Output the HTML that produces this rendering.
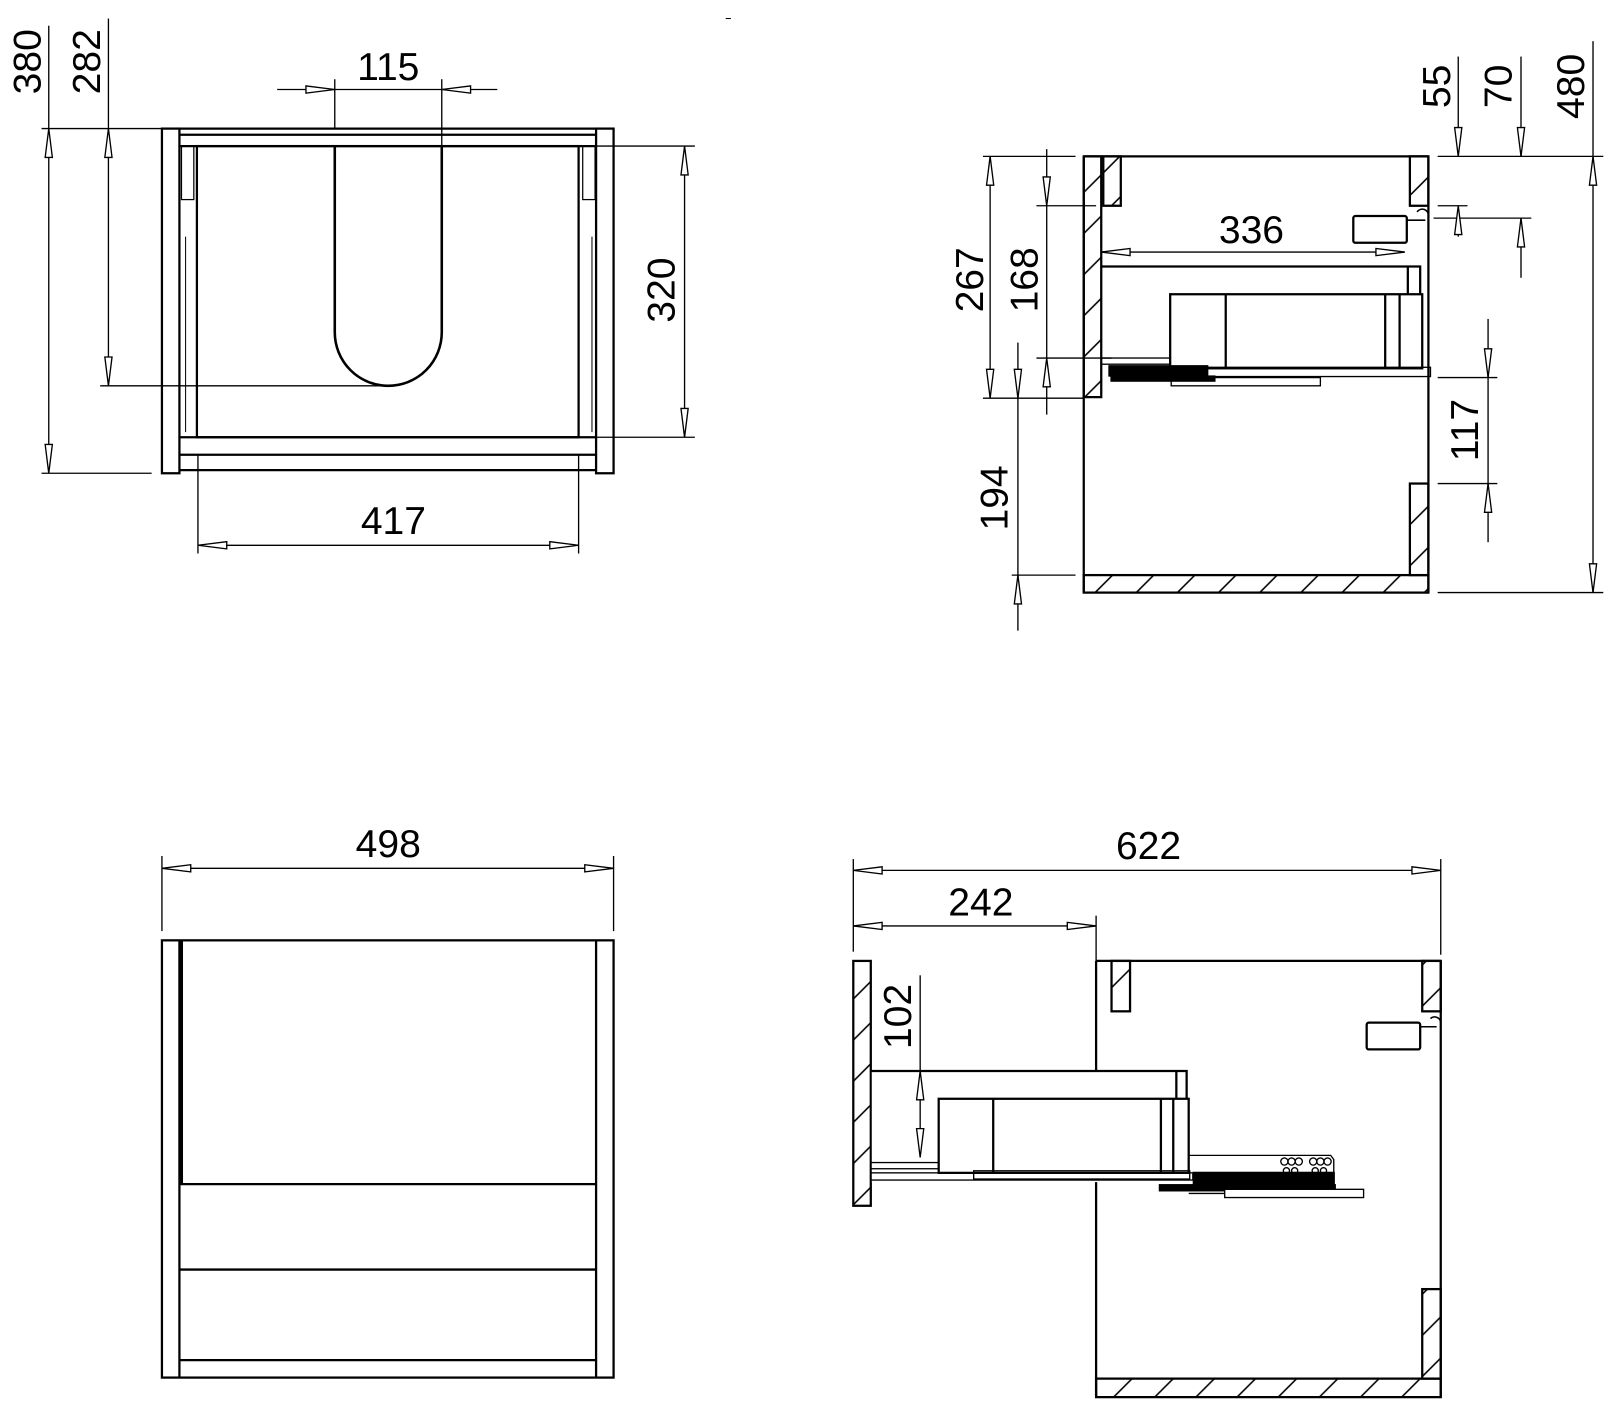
<!DOCTYPE html>
<html><head><meta charset="utf-8"><style>
html,body{margin:0;padding:0;background:#fff;}
svg{display:block}
text{font-family:"Liberation Sans",sans-serif;font-size:38px;fill:#000}
</style></head><body>
<svg width="1614" height="1428" viewBox="0 0 1568 1388" xmlns="http://www.w3.org/2000/svg">
<defs>
<marker id="a" viewBox="-30 -5 31 10" refX="0" refY="0" markerWidth="31" markerHeight="10" markerUnits="userSpaceOnUse" orient="auto-start-reverse">
<path d="M0,0 L-28,-3.5 L-28,3.5 Z" fill="#fff" stroke="#000" stroke-width="1.3"/>
</marker>
<pattern id="h" patternUnits="userSpaceOnUse" width="40" height="40">
<path d="M-10,50 L50,-10 M-10,10 L10,-10 M30,50 L50,30" stroke="#000" stroke-width="1.5"/>
</pattern>
</defs>
<g fill="none" stroke="#000" stroke-width="2.2">
<!-- ===== TOP LEFT ===== -->
<rect x="157" y="125" width="17" height="335"/>
<rect x="579" y="125" width="17" height="335"/>
<line x1="174" y1="125" x2="579" y2="125"/>
<line x1="174" y1="131" x2="579" y2="131"/>
<line x1="174" y1="142" x2="579" y2="142"/>
<rect x="191" y="142" width="371" height="283"/>
<line x1="174" y1="425" x2="579" y2="425"/>
<line x1="174" y1="442" x2="579" y2="442"/>
<line x1="174" y1="457" x2="579" y2="457"/>
<rect x="176" y="142" width="12" height="52" stroke-width="1.2"/>
<rect x="566" y="142" width="12" height="52" stroke-width="1.2"/>
<line x1="180" y1="230" x2="180" y2="420" stroke-width="1"/>
<line x1="575" y1="230" x2="575" y2="420" stroke-width="1"/>
<path d="M325,142 L325,323 A52,52 0 0 0 429,323 L429,142" stroke-width="2.5"/>
<!-- dims -->
<line x1="325" y1="77" x2="325" y2="125" stroke-width="1.3"/>
<line x1="429" y1="77" x2="429" y2="142" stroke-width="1.3"/>
<line x1="269" y1="87" x2="325" y2="87" stroke-width="1.3" marker-end="url(#a)"/>
<line x1="483" y1="87" x2="429" y2="87" stroke-width="1.3" marker-end="url(#a)"/>
<line x1="325" y1="87" x2="429" y2="87" stroke-width="1.3"/>
<line x1="40" y1="125" x2="157" y2="125" stroke-width="1.3"/>
<line x1="40" y1="460" x2="147" y2="460" stroke-width="1.3"/>
<line x1="47" y1="25" x2="47" y2="125" stroke-width="1.3"/>
<line x1="47" y1="125" x2="47" y2="460" stroke-width="1.3" marker-start="url(#a)" marker-end="url(#a)"/>
<line x1="97" y1="375" x2="377" y2="375" stroke-width="1.3"/>
<line x1="105" y1="18" x2="105" y2="125" stroke-width="1.3"/>
<line x1="105" y1="125" x2="105" y2="375" stroke-width="1.3" marker-start="url(#a)" marker-end="url(#a)"/>
<line x1="562" y1="142" x2="675" y2="142" stroke-width="1.3"/>
<line x1="562" y1="425" x2="675" y2="425" stroke-width="1.3"/>
<line x1="665" y1="142" x2="665" y2="425" stroke-width="1.3" marker-start="url(#a)" marker-end="url(#a)"/>
<line x1="192" y1="442" x2="192" y2="538" stroke-width="1.3"/>
<line x1="562" y1="442" x2="562" y2="538" stroke-width="1.3"/>
<line x1="192" y1="530" x2="562" y2="530" stroke-width="1.3" marker-start="url(#a)" marker-end="url(#a)"/>

<!-- ===== TOP RIGHT ===== -->
<line x1="1053" y1="152" x2="1388" y2="152"/>
<line x1="1388" y1="152" x2="1388" y2="576"/>
<line x1="1053" y1="152" x2="1053" y2="576"/>
<rect x="1053" y="152" width="17" height="234" fill="url(#h)"/>
<rect x="1072" y="152" width="17" height="48" fill="url(#h)"/>
<rect x="1370" y="152" width="18" height="48" fill="url(#h)"/>
<rect x="1370" y="470" width="18" height="89" fill="url(#h)"/>
<rect x="1053" y="559" width="335" height="17" fill="url(#h)"/>
<path d="M1070,259 L1380,259 L1380,290 M1368,259 L1368,286"/>
<rect x="1137" y="286" width="245" height="72" fill="#fff"/>
<line x1="1191" y1="286" x2="1191" y2="358"/>
<line x1="1346" y1="286" x2="1346" y2="358"/>
<line x1="1360" y1="286" x2="1360" y2="358"/>
<rect x="1070" y="348" width="67" height="6" stroke-width="1.3"/>
<rect x="1078" y="356" width="95" height="9" fill="#000"/>
<rect x="1170" y="357" width="220" height="9" stroke-width="1.3"/>
<rect x="1080" y="366" width="100" height="4" fill="#000"/>
<rect x="1138" y="367" width="145" height="8" stroke-width="1.3"/>
<rect x="1315" y="210" width="52" height="26" rx="2"/>
<path d="M1367,214 L1385,214 M1377,206 A6,6 0 0 1 1388,210" stroke-width="1.5"/>
<!-- dims -->
<line x1="1070" y1="245" x2="1365" y2="245" stroke-width="1.3" marker-start="url(#a)" marker-end="url(#a)"/>
<line x1="955" y1="152" x2="1045" y2="152" stroke-width="1.3"/>
<line x1="955" y1="387" x2="1053" y2="387" stroke-width="1.3"/>
<line x1="962" y1="152" x2="962" y2="387" stroke-width="1.3" marker-start="url(#a)" marker-end="url(#a)"/>
<line x1="1007" y1="200" x2="1065" y2="200" stroke-width="1.3"/>
<line x1="1007" y1="348" x2="1080" y2="348" stroke-width="1.3"/>
<line x1="1017" y1="145" x2="1017" y2="200" stroke-width="1.3" marker-end="url(#a)"/>
<line x1="1017" y1="403" x2="1017" y2="348" stroke-width="1.3" marker-end="url(#a)"/>
<line x1="1017" y1="200" x2="1017" y2="348" stroke-width="1.3"/>
<line x1="983" y1="559" x2="1045" y2="559" stroke-width="1.3"/>
<line x1="989" y1="333" x2="989" y2="387" stroke-width="1.3" marker-end="url(#a)"/>
<line x1="989" y1="613" x2="989" y2="559" stroke-width="1.3" marker-end="url(#a)"/>
<line x1="989" y1="387" x2="989" y2="559" stroke-width="1.3"/>
<line x1="1397" y1="152" x2="1558" y2="152" stroke-width="1.3"/>
<line x1="1397" y1="200" x2="1426" y2="200" stroke-width="1.3"/>
<line x1="1393" y1="212" x2="1488" y2="212" stroke-width="1.3"/>
<line x1="1397" y1="576" x2="1558" y2="576" stroke-width="1.3"/>
<line x1="1417" y1="55" x2="1417" y2="152" stroke-width="1.3" marker-end="url(#a)"/>
<line x1="1417" y1="230" x2="1417" y2="200" stroke-width="1.3" marker-end="url(#a)"/>
<line x1="1478" y1="55" x2="1478" y2="152" stroke-width="1.3" marker-end="url(#a)"/>
<line x1="1478" y1="270" x2="1478" y2="212" stroke-width="1.3" marker-end="url(#a)"/>
<line x1="1548" y1="40" x2="1548" y2="152" stroke-width="1.3"/>
<line x1="1548" y1="152" x2="1548" y2="576" stroke-width="1.3" marker-start="url(#a)" marker-end="url(#a)"/>
<line x1="1397" y1="367" x2="1455" y2="367" stroke-width="1.3"/>
<line x1="1397" y1="470" x2="1455" y2="470" stroke-width="1.3"/>
<line x1="1446" y1="310" x2="1446" y2="367" stroke-width="1.3" marker-end="url(#a)"/>
<line x1="1446" y1="527" x2="1446" y2="470" stroke-width="1.3" marker-end="url(#a)"/>
<line x1="1446" y1="367" x2="1446" y2="470" stroke-width="1.3"/>

<!-- ===== BOTTOM LEFT ===== -->
<rect x="157" y="914" width="439" height="425"/>
<line x1="174" y1="914" x2="174" y2="1339"/>
<line x1="579" y1="914" x2="579" y2="1339"/>
<line x1="176" y1="914" x2="176" y2="1151" stroke-width="3"/>
<line x1="174" y1="1151" x2="579" y2="1151"/>
<line x1="174" y1="1234" x2="579" y2="1234"/>
<line x1="174" y1="1322" x2="579" y2="1322"/>
<line x1="157" y1="832" x2="157" y2="905" stroke-width="1.3"/>
<line x1="596" y1="832" x2="596" y2="905" stroke-width="1.3"/>
<line x1="157" y1="844" x2="596" y2="844" stroke-width="1.3" marker-start="url(#a)" marker-end="url(#a)"/>

<!-- ===== BOTTOM RIGHT ===== -->
<line x1="1065" y1="934" x2="1400" y2="934"/>
<line x1="1065" y1="934" x2="1065" y2="1358"/>
<line x1="1400" y1="934" x2="1400" y2="1358"/>
<rect x="1080" y="934" width="18" height="49" fill="url(#h)"/>
<rect x="1382" y="934" width="18" height="49" fill="url(#h)"/>
<rect x="1382" y="1253" width="18" height="87" fill="url(#h)"/>
<rect x="1065" y="1340" width="335" height="18" fill="url(#h)"/>
<rect x="829" y="934" width="17" height="238" fill="url(#h)"/>
<rect x="847" y="1041" width="306" height="108" fill="#fff" stroke="none"/>
<path d="M846,1041 L1153,1041 L1153,1068 M1143,1041 L1143,1068"/>
<rect x="912" y="1068" width="243" height="72" fill="#fff"/>
<line x1="965" y1="1068" x2="965" y2="1140"/>
<line x1="1128" y1="1068" x2="1128" y2="1140"/>
<line x1="1140" y1="1068" x2="1140" y2="1140"/>
<rect x="846" y="1130" width="66" height="6" stroke-width="1.3"/>
<rect x="846" y="1140" width="313" height="7" stroke-width="1.3"/>
<rect x="946" y="1138" width="210" height="8" stroke-width="1.3"/>
<path d="M1155,1123 L1293,1123 L1296,1127 L1296,1160 L1155,1160" stroke-width="1.3"/>
<rect x="1160" y="1140" width="136" height="11" fill="#000"/>
<rect x="1127" y="1152" width="170" height="5" fill="#000"/>
<rect x="1190" y="1156" width="135" height="8" stroke-width="1.3" fill="#fff"/>
<g stroke-width="1.3">
<circle cx="1248" cy="1129" r="3.5"/><circle cx="1255" cy="1129" r="3.5"/><circle cx="1262" cy="1129" r="3.5"/>
<circle cx="1276" cy="1129" r="3.5"/><circle cx="1283" cy="1129" r="3.5"/><circle cx="1290" cy="1129" r="3.5"/>
<circle cx="1250" cy="1138" r="3"/><circle cx="1258" cy="1138" r="3"/><circle cx="1278" cy="1138" r="3"/><circle cx="1286" cy="1138" r="3"/>
</g>
<rect x="1328" y="994" width="52" height="26" rx="2"/>
<path d="M1380,998 L1396,998 M1390,990 A6,6 0 0 1 1400,994" stroke-width="1.5"/>
<line x1="829" y1="835" x2="829" y2="925" stroke-width="1.3"/>
<line x1="1400" y1="835" x2="1400" y2="928" stroke-width="1.3"/>
<line x1="1065" y1="890" x2="1065" y2="934" stroke-width="1.3"/>
<line x1="829" y1="846" x2="1400" y2="846" stroke-width="1.3" marker-start="url(#a)" marker-end="url(#a)"/>
<line x1="829" y1="900" x2="1065" y2="900" stroke-width="1.3" marker-start="url(#a)" marker-end="url(#a)"/>
<line x1="894" y1="948" x2="894" y2="1041" stroke-width="1.3"/>
<line x1="894" y1="1041" x2="894" y2="1125" stroke-width="1.3" marker-start="url(#a)" marker-end="url(#a)"/>
</g>
<!-- texts -->
<text x="377" y="78" text-anchor="middle">115</text>
<text x="382" y="519" text-anchor="middle">417</text>
<text transform="translate(39,60) rotate(-90)" text-anchor="middle">380</text>
<text transform="translate(97,60) rotate(-90)" text-anchor="middle">282</text>
<text transform="translate(655,282) rotate(-90)" text-anchor="middle">320</text>
<text x="1216" y="236" text-anchor="middle">336</text>
<text transform="translate(955,272) rotate(-90)" text-anchor="middle">267</text>
<text transform="translate(1008,272) rotate(-90)" text-anchor="middle">168</text>
<text transform="translate(979,484) rotate(-90)" text-anchor="middle">194</text>
<text transform="translate(1409,84) rotate(-90)" text-anchor="middle">55</text>
<text transform="translate(1469,84) rotate(-90)" text-anchor="middle">70</text>
<text transform="translate(1539,84) rotate(-90)" text-anchor="middle">480</text>
<text transform="translate(1436,418) rotate(-90)" text-anchor="middle">117</text>
<text x="377" y="833" text-anchor="middle">498</text>
<text x="1116" y="835" text-anchor="middle">622</text>
<text x="953" y="890" text-anchor="middle">242</text>
<text transform="translate(885,988) rotate(-90)" text-anchor="middle">102</text>
<line x1="705" y1="18" x2="710" y2="18" stroke="#000" stroke-width="1"/>
</svg>
</body></html>
